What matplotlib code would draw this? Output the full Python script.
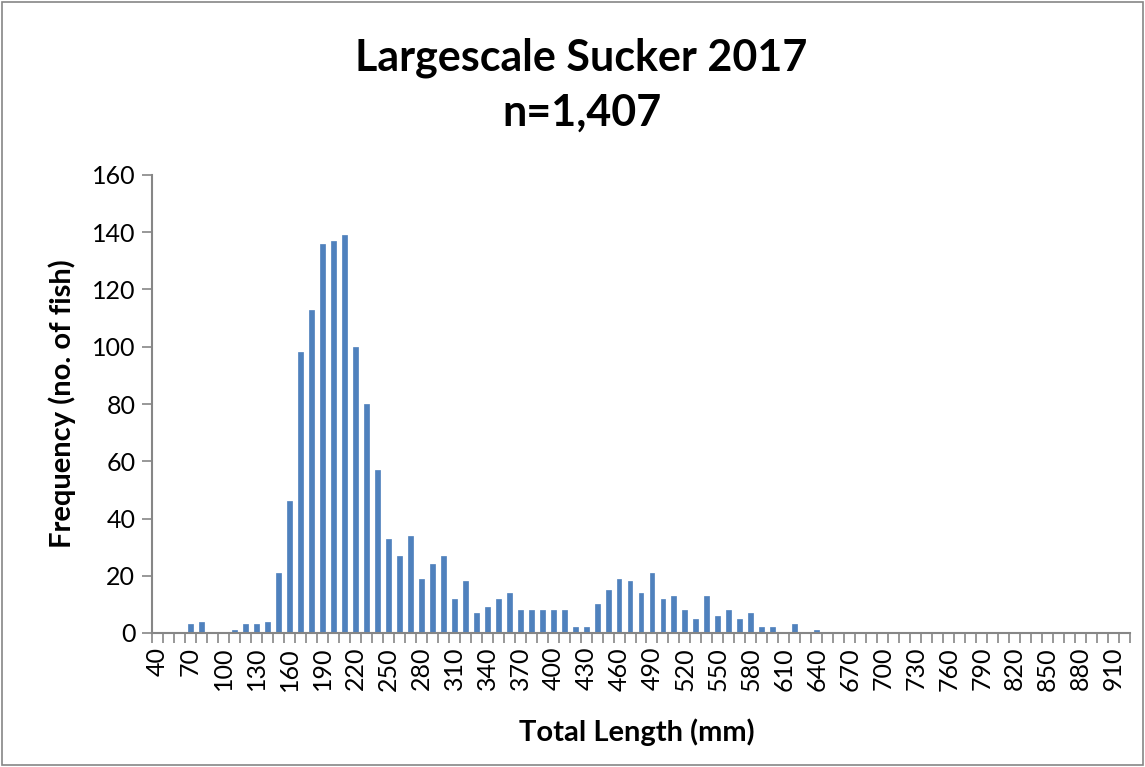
import matplotlib
matplotlib.use("Agg")
import matplotlib.pyplot as plt
from matplotlib.patches import Rectangle
from matplotlib.ticker import FixedLocator
import numpy as np

# length classes (mm) and counts
lengths = list(range(40, 930, 10))
counts = [0, 0, 0, 3, 4, 0, 0, 1, 3, 3,
          4, 21, 46, 98, 113, 136, 137, 139, 100, 80,
          57, 33, 27, 34, 19, 24, 27, 12, 18, 7,
          9, 12, 14, 8, 8, 8, 8, 8, 2, 2,
          10, 15, 19, 18, 14, 21, 12, 13, 8, 5,
          13, 6, 8, 5, 7, 2, 2, 0, 3, 0,
          1]
counts = counts + [0] * (len(lengths) - len(counts))

title = "Largescale Sucker 2017\nn=1,407"
xlabel = "Total Length (mm)"
ylabel = "Frequency (no. of fish)"

plt.rcParams['font.family'] = ['Lato', 'DejaVu Sans']

fig = plt.figure(figsize=(11.45, 7.67), dpi=100)
ax = fig.add_axes([152 / 1145, 1 - 633 / 767, (1130 - 152) / 1145, (633 - 175) / 767])

x = np.arange(len(lengths))
ax.bar(x, counts, width=0.45, color='#4F81BD', edgecolor='#4F81BD', linewidth=0.5)

ax.set_xlim(-0.5, len(lengths) - 0.5)
ax.set_ylim(0, 160)
ax.set_yticks(range(0, 161, 20))

ax.set_xticks(x[::3])
ax.set_xticklabels([str(v) for v in lengths[::3]], rotation=90, fontsize=18)
ax.xaxis.set_minor_locator(FixedLocator(np.arange(-0.5, len(lengths), 1)))
ax.tick_params(axis='x', which='major', length=0, pad=10)
ax.tick_params(axis='x', which='minor', length=7, color='#868686', width=1.2)
ax.tick_params(axis='y', length=7, color='#868686', width=1.2, labelsize=18, pad=5)

for s in ['top', 'right']:
    ax.spines[s].set_visible(False)
for s in ['left', 'bottom']:
    ax.spines[s].set_color('#868686')
    ax.spines[s].set_linewidth(1.5)

fig.text(0.508, 1 - 85 / 767, title, ha='center', va='center', fontsize=31,
         fontweight='bold', linespacing=1.45)
fig.text(0.556, 1 - 732 / 767, xlabel, ha='center', va='center', fontsize=21, fontweight='bold')
fig.text(62 / 1145, 1 - 404 / 767, ylabel, ha='center', va='center', rotation=90,
         fontsize=21, fontweight='bold')

fig.patches.append(Rectangle((0.002, 0.002), 0.996, 0.996, transform=fig.transFigure,
                             fill=False, edgecolor='#868686', linewidth=1.2))

fig.savefig('out.png', dpi=100)
